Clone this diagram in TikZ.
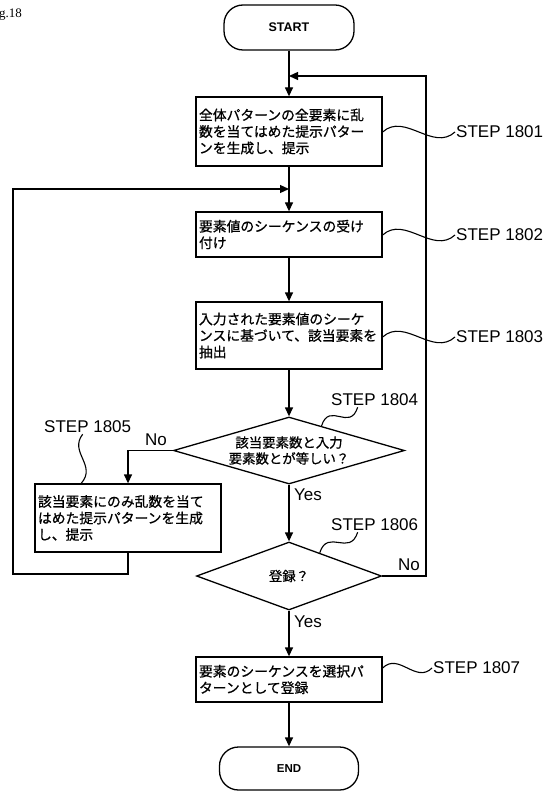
\documentclass[tikz,border=0pt]{standalone}
\usepackage{fontspec}
\setsansfont{Liberation Sans}
\newfontfamily\jpfont[FakeBold=0.8]{Noto Sans CJK JP}
\newfontfamily\figfont{Liberation Serif}
\usetikzlibrary{
  arrows.meta,
  calc,
  shapes.geometric
}
\tikzset{
  term/.style      = {draw, rectangle, rounded corners=19pt, line width=1.3pt,
                      font=\sffamily\bfseries\fontsize{12.5}{14}\selectfont},
  proc/.style      = {draw, rectangle, line width=1.3pt, align=left,
                      text width=180pt, inner xsep=3pt, inner ysep=2pt,
                      font=\jpfont\fontsize{13.8}{16.5}\selectfont},
  cond/.style      = {draw, diamond, aspect=3.4, inner sep=0pt, line width=1.3pt,
                      align=center, font=\jpfont\fontsize{13.4}{16}\selectfont},
  arrow/.style     = {-{Triangle[length=9pt,width=8pt]}, line width=1.3pt},
  lead/.style      = {line width=1.1pt},
  steplabel/.style = {anchor=west, inner sep=1pt,
                      font=\sffamily\fontsize{17}{17}\selectfont},
  answer/.style    = {inner sep=1pt, font=\sffamily\fontsize{17}{17}\selectfont},
}

\begin{document}
\begin{tikzpicture}[x=1pt, y=-1pt]
\useasboundingbox (0,0) rectangle (555,794);
\clip (0,0) rectangle (555,794);

\node[anchor=west, inner sep=0pt, font=\figfont\fontsize{13}{13}\selectfont]
  (fig) at (-12,15) {Fig.18};

% main column
\node[term, minimum width=130pt, minimum height=45pt] (start) at (289,27.5) {START};
\node[proc, minimum height=69pt] (init) at (289,131.5)
  {全体パターンの全要素に乱\\数を当てはめた提示パター\\ンを生成し、提示};
\node[proc, minimum height=45pt] (recv) at (289,234.5)
  {要素値のシーケンスの受け\\付け};
\node[proc, minimum height=67pt] (extr) at (289,335.5)
  {入力された要素値のシーケ\\ンスに基づいて、該当要素を\\抽出};
\node[cond, minimum width=231pt, minimum height=67pt] (same) at (289,450.5)
  {該当要素数と入力\\要素数とが等しい？};
\node[proc, minimum height=68pt] (part) at (128,518)
  {該当要素にのみ乱数を当て\\はめた提示パターンを生成\\し、提示};
\node[cond, minimum width=185pt, minimum height=68pt] (reg) at (289,576) {登録？};
\node[proc, minimum height=45pt] (save) at (289,679.5)
  {要素のシーケンスを選択パ\\ターンとして登録};
\node[term, minimum width=139pt, minimum height=43pt,
      font=\sffamily\bfseries\fontsize{11.5}{13}\selectfont] (end) at (289,768.5) {END};

\coordinate (rloop) at (426,76);
\coordinate (lbot)  at (13,574);
\coordinate (ltop)  at (13,189);

\draw[arrow] (start) -- (init);
\draw[arrow] (init) -- (recv);
\draw[arrow] (recv) -- (extr);
\draw[arrow] (extr) -- (same);
\draw[arrow] (same) -- (reg);
\draw[arrow] (reg) -- (save);
\draw[arrow] (save) -- (end);
\draw[arrow] (same.west) -| (part.north);
\draw[arrow] (part.south) |- (lbot) -- (ltop) -- (ltop -| init.south);
\draw[arrow] (reg.east) -| (rloop) -- (rloop -| start.south);

\node[answer, anchor=west] (yes1) at (293,495) {Yes};
\node[answer, anchor=west] (yes2) at (293,622) {Yes};
\node[answer] (no1) at (156,440) {No};
\node[answer] (no2) at (409,565) {No};

% step labels
\node[steplabel] (s1801) at (455,132) {STEP 1801};
\node[steplabel] (s1802) at (455,235) {STEP 1802};
\node[steplabel] (s1803) at (455,337) {STEP 1803};
\node[steplabel] (s1804) at (330,400) {STEP 1804};
\node[steplabel] (s1805) at (43,427)  {STEP 1805};
\node[steplabel] (s1806) at (330,525) {STEP 1806};
\node[steplabel] (s1807) at (432,668) {STEP 1807};

\draw[lead] (init.east |- s1801.west) .. controls +(22,-20) and +(-22,20) .. (s1801.west);
\draw[lead] (recv.east |- s1802.west) .. controls +(22,-20) and +(-22,20) .. (s1802.west);
\draw[lead] (extr.east |- s1803.west) .. controls +(22,-20) and +(-22,20) .. (s1803.west);
\draw[lead] ($(same.north)!0.28!(same.east)$) .. controls +(8,-25) and +(-8,25)
  .. ([xshift=-17pt]s1804.south);
\draw[lead] ([xshift=-5pt]s1805.south) .. controls +(-14,18) and +(16,-18)
  .. ($(part.north west)!0.25!(part.north east)$);
\draw[lead] ($(reg.north)!0.33!(reg.east)$) .. controls +(8,-25) and +(-8,25)
  .. ([xshift=-17pt]s1806.south);
\draw[lead] (save.east |- s1807.west) .. controls +(16,-16) and +(-16,16) .. (s1807.west);
\end{tikzpicture}
\end{document}
